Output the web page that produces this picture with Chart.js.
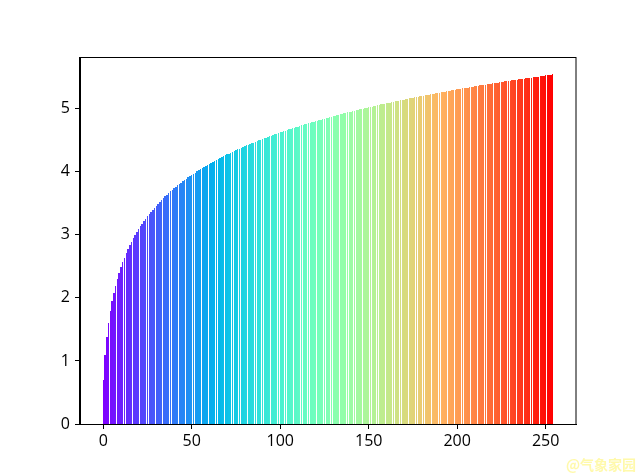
<!DOCTYPE html>
<html>
<head>
<meta charset="utf-8">
<script src="https://cdn.jsdelivr.net/npm/chart.js@4/dist/chart.umd.min.js"></script>
<style>
html,body{margin:0;padding:0;background:#fff;}
#wrap{position:relative;width:640px;height:476px;}
</style>
</head>
<body>
<div id="wrap"><canvas id="c" width="640" height="476"></canvas></div>
<script>
// bar heights (bar index 0..254)
const values = [
0.693,1.099,1.386,1.609,1.792,1.946,2.079,2.197,2.303,2.398,
2.485,2.565,2.639,2.708,2.773,2.833,2.890,2.944,2.996,3.045,
3.091,3.135,3.178,3.219,3.258,3.296,3.332,3.367,3.401,3.434,
3.466,3.497,3.526,3.555,3.584,3.611,3.638,3.664,3.689,3.714,
3.738,3.761,3.784,3.807,3.829,3.850,3.871,3.892,3.912,3.932,
3.951,3.970,3.989,4.007,4.025,4.043,4.060,4.078,4.094,4.111,
4.127,4.143,4.159,4.174,4.190,4.205,4.220,4.234,4.248,4.263,
4.277,4.290,4.304,4.317,4.331,4.344,4.357,4.369,4.382,4.394,
4.407,4.419,4.431,4.443,4.454,4.466,4.477,4.489,4.500,4.511,
4.522,4.533,4.543,4.554,4.564,4.575,4.585,4.595,4.605,4.615,
4.625,4.635,4.644,4.654,4.663,4.673,4.682,4.691,4.700,4.710,
4.719,4.727,4.736,4.745,4.754,4.762,4.771,4.779,4.788,4.796,
4.804,4.812,4.820,4.828,4.836,4.844,4.852,4.860,4.868,4.875,
4.883,4.890,4.898,4.905,4.913,4.920,4.927,4.934,4.942,4.949,
4.956,4.963,4.970,4.977,4.984,4.990,4.997,5.004,5.011,5.017,
5.024,5.030,5.037,5.043,5.050,5.056,5.063,5.069,5.075,5.081,
5.088,5.094,5.100,5.106,5.112,5.118,5.124,5.130,5.136,5.142,
5.148,5.153,5.159,5.165,5.171,5.176,5.182,5.187,5.193,5.198,
5.204,5.209,5.215,5.220,5.226,5.231,5.236,5.242,5.247,5.252,
5.257,5.263,5.268,5.273,5.278,5.283,5.288,5.293,5.298,5.303,
5.308,5.313,5.318,5.323,5.328,5.333,5.338,5.342,5.347,5.352,
5.357,5.361,5.366,5.371,5.375,5.380,5.385,5.389,5.394,5.398,
5.403,5.407,5.412,5.416,5.421,5.425,5.429,5.434,5.438,5.443,
5.447,5.451,5.455,5.460,5.464,5.468,5.472,5.476,5.481,5.485,
5.489,5.493,5.497,5.501,5.505,5.509,5.513,5.517,5.521,5.525,
5.529,5.533,5.537,5.541,5.545
];
const categories = values.map((v, i) => i);
const xTickValues = [0, 50, 100, 150, 200, 250];
const yTickValues = [0, 1, 2, 3, 4, 5];
const watermark = "@气象家园";

// matplotlib 'rainbow' colormap
function rainbow(t) {
  t = Math.round(t * 255) / 255;
  const r = Math.min(1, Math.max(0, Math.abs(2 * t - 0.5)));
  const g = Math.min(1, Math.max(0, Math.sin(Math.PI * t)));
  const b = Math.min(1, Math.max(0, Math.cos(Math.PI * t / 2)));
  return `rgb(${Math.round(r*255)},${Math.round(g*255)},${Math.round(b*255)})`;
}
const n = categories.length;
const colors = categories.map((c, i) => rainbow(i / (n - 1)));

const FONT = { family: "'Open Sans', 'DejaVu Sans', sans-serif", size: 16 };

// snap the library-computed bar edges to whole pixels (like matplotlib's Agg snapping)
const snapPlugin = {
  id: 'snap',
  beforeDatasetsDraw(chart) {
    chart.getDatasetMeta(0).data.forEach(el => {
      const l = Math.round(el.x - el.width / 2);
      const r = Math.round(el.x + el.width / 2);
      el.x = (l + r) / 2;
      el.width = r - l;
      el.y = Math.round(el.y);
      el.base = Math.round(el.base);
    });
  }
};

const framePlugin = {
  id: 'frame',
  afterDraw(chart) {
    const { ctx, chartArea: a } = chart;
    ctx.save();
    ctx.strokeStyle = '#000';
    ctx.lineWidth = 1;
    ctx.strokeRect(Math.round(a.left) - 0.5, Math.round(a.top) + 0.5,
      Math.round(a.right - a.left) + 0.5, Math.round(a.bottom - a.top));
    ctx.font = "bold 14px 'Noto Sans CJK SC', sans-serif";
    ctx.fillStyle = 'rgba(255,248,150,0.8)';
    ctx.textAlign = 'right';
    ctx.textBaseline = 'middle';
    ctx.fillText(watermark, 636, 465);
    ctx.restore();
  }
};

new Chart(document.getElementById('c'), {
  type: 'bar',
  data: {
    datasets: [{
      data: categories.map((x, i) => ({ x: x, y: values[i] })),
      backgroundColor: colors,
      borderWidth: 0,
      inflateAmount: 0,
      barPercentage: 1.0,
      categoryPercentage: 0.8
    }]
  },
  options: {
    responsive: false,
    animation: false,
    devicePixelRatio: 1,
    layout: { padding: { top: 57, right: 64, left: 0, bottom: 0 } },
    plugins: { legend: { display: false }, tooltip: { enabled: false } },
    scales: {
      x: {
        type: 'linear',
        offset: false,
        bounds: 'data',
        min: -13.14,
        max: 267.14,
        afterBuildTicks: s => { s.ticks = xTickValues.map(v => ({ value: v })); },
        afterFit: s => { s.height = 52; },
        grid: { offset: false, drawOnChartArea: false, tickLength: 5, color: '#000', tickWidth: 1 },
        border: { display: true, color: '#000', width: 1 },
        ticks: { color: '#000', font: FONT, padding: 3, maxRotation: 0, autoSkip: false }
      },
      y: {
        type: 'linear',
        bounds: 'data',
        min: 0,
        max: 5.8225,
        afterBuildTicks: s => { s.ticks = yTickValues.map(v => ({ value: v })); },
        afterFit: s => { s.width = 80; },
        grid: { drawOnChartArea: false, tickLength: 5, color: '#000', tickWidth: 1 },
        border: { display: true, color: '#000', width: 1 },
        ticks: { color: '#000', font: FONT, padding: 5 }
      }
    }
  },
  plugins: [snapPlugin, framePlugin]
});
</script>
</body>
</html>
